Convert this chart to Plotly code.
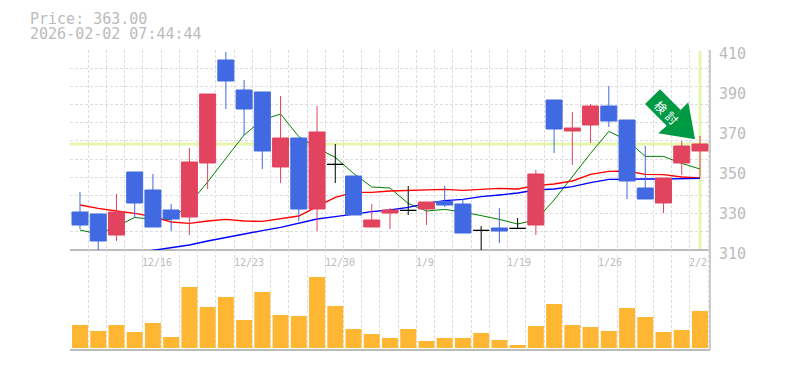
import plotly.graph_objects as go

index = list(range(35))
opens = [329,328,317.5,349,340,330,326.5,353.5,405,390,389,351.5,366,330.5,352.8,347,321.5,328.5,329.8,330.5,334.2,333,319.8,321,320.8,322.5,385,369.5,372.5,382,375,341,333.5,353.5,359.5]
closes = [322.5,314.5,329,333.5,321.5,325.5,354,388,394.5,380.5,359.5,366,330.5,369,352.8,327.5,325,330,329.8,334,332.5,318.5,319.8,319.5,320.8,348,370.5,371,382,374.5,344.5,335.5,346,362,363]
highs = [339,328,338,349,348,333,361,388,409,395,389,387,366,382,363,347,333,331,342,334,342,335.5,322,331,326,350,385,379,383,392,375,362,346,364.5,367]
lows = [320.5,309.8,314.5,326,321.5,319.5,317.5,340.5,380.5,367.5,350.5,343.5,324.5,319.5,343.5,327.5,321.5,320.5,327.5,322.5,331.5,318.5,309.8,313.5,320.5,317.5,358.5,352.5,363.5,371.5,335.5,335.5,328.5,347.5,346.5]
ma_short = [320,318,321.7,326.3,325.3,325.3,333,344,355.8,367.5,375,378,366.7,361,356.3,348.3,341.5,341,333.3,329.5,330.3,329,327.2,325.3,323,325,335,346.7,358.3,369.3,365,356.8,356.8,353.3,350.5]
ma_mid = [332.5,330.8,329.5,328.3,326.7,324,323.3,324.5,325.3,324.5,324.3,325.5,327,331.7,336.3,338.8,338.8,339.5,339.8,339.8,340.3,339.8,340.2,340.8,340.5,342.2,343,344.5,347.8,349.3,349.5,347.8,347.7,346.5,346]
ma_long = [None,None,None,308.5,309.8,311.3,312.5,314.5,316.3,317.8,319.7,321.3,323.3,325.5,326.7,328,329.2,330,331.3,333.3,334.7,335.3,336.7,337.5,338.5,340,340.5,341.7,343.7,345.3,345.5,345.5,345.5,345.5,345.8]
volumes = [23,17,23,16,25,11,61,41,51,28,56,33,32,71,42,19,14,10,19,7,10,10,15,8,3,22,44,23,21,17,40,31,16,18,37]
date_ticks = [4,9,14,19,24,29,34]
date_labels = ["12/16","12/23","12/30","1/9","1/19","1/26","2/2"]
price_ticks = [310,330,350,370,390,410]
current_price = 363
title_lines = ["Price: 363.00", "2026-02-02 07:44:44"]
arrow_label = "検討"

BLUE, RED, BLACK = "#4169e1", "#e2435f", "#000000"
GRAY = "#bbbbbb"; GRID = "#dddddd"; PALE = "#e5f6ae"
OFF = 8  # the page's own body margin
W, H = 785 - OFF, 370
L, R, T, B, MID = 70, 710, 50, 350, 250
XR = [-0.548, 34.55]
FONT = "DejaVu Sans Mono"
DASH = "3px,2px"

fx = lambda x: (x - L) / (R - L)
fy = lambda y: (B - y) / (B - T)

fig = go.Figure()

up = [i for i in index if closes[i] > opens[i]]
down = [i for i in index if closes[i] < opens[i]]
flat = [i for i in index if closes[i] == opens[i]]

for name, col, vals in [("MA5", "#008000", ma_short), ("MA25", "#ff0000", ma_mid), ("MA75", "#0000ff", ma_long)]:
    fig.add_trace(go.Scatter(x=index, y=vals, mode="lines", name=name, xaxis="x", yaxis="y",
                             line=dict(color=col, width=1 if col == "#008000" else 1.4), hoverinfo="skip"))

for sel, col in [(up, RED), (down, BLUE), (flat, BLACK)]:
    fig.add_trace(go.Candlestick(
        x=sel, open=[opens[i] for i in sel], high=[highs[i] for i in sel],
        low=[lows[i] for i in sel], close=[closes[i] for i in sel],
        xaxis="x3", yaxis="y3",
        increasing=dict(line=dict(color=col, width=1), fillcolor=col),
        decreasing=dict(line=dict(color=col, width=1), fillcolor=col),
        whiskerwidth=0, showlegend=False))

fig.add_trace(go.Bar(x=index, y=volumes, xaxis="x2", yaxis="y2", marker=dict(color="#ffb733", line=dict(width=0)),
                     width=0.877, showlegend=False))

minor_grid = dict(showgrid=True, gridcolor=GRID, griddash=DASH, gridwidth=1, tick0=-0.548, dtick=1.0, ticks="")
date_annotations = [
    dict(xref="x2", yref="paper", x=i, y=fy(262), text=t, xanchor="left", yanchor="middle", xshift=-12.5,
         showarrow=False, font=dict(size=10, color=GRAY, family=FONT))
    for i, t in zip(date_ticks, date_labels)
]
fig.update_layout(
    width=W, height=H, paper_bgcolor="white", plot_bgcolor="white", showlegend=False,
    boxgap=0.123, boxgroupgap=0, boxmode="overlay",
    margin=dict(l=L - OFF, r=W - (R - OFF), t=T - OFF, b=H - (B - OFF), pad=0),
    font=dict(family=FONT, color=GRAY, size=15),
    xaxis=dict(domain=[0, 1], anchor="y", range=XR, tickmode="array", tickvals=[], showgrid=False, zeroline=False,
               showticklabels=False, ticks="", minor=minor_grid),
    yaxis=dict(domain=[fy(MID), 1], anchor="x", range=[310, 410], tick0=310, dtick=100 / 11,
               showgrid=True, gridcolor=GRID, griddash=DASH, gridwidth=1, showticklabels=False, zeroline=False),
    xaxis3=dict(overlaying="x", anchor="y3", range=XR, rangeslider=dict(visible=False), showgrid=False,
                showticklabels=False, zeroline=False, ticks=""),
    yaxis3=dict(overlaying="y", anchor="x3", side="right", range=[310, 410], tickmode="array", tickvals=price_ticks,
                ticktext=[str(v) for v in price_ticks], ticklabelshift=4, ticks="", showgrid=False, zeroline=False,
                tickfont=dict(size=15, color=GRAY, family=FONT), ticklabelstandoff=8),
    xaxis2=dict(domain=[0, 1], anchor="y2", range=XR, tickmode="array", tickvals=[], showticklabels=False,
                showgrid=False, zeroline=False, ticks="", minor=minor_grid),
    yaxis2=dict(domain=[0, fy(MID)], anchor="x2", range=[-2, 98], showgrid=False, showticklabels=False, zeroline=False),
    shapes=[
        dict(type="line", xref="paper", yref="y", x0=0, x1=1, y0=current_price, y1=current_price,
             line=dict(color=PALE, width=3), layer="below"),
        dict(type="line", xref="x", yref="paper", x0=34, x1=34, y0=fy(249), y1=fy(51),
             line=dict(color=PALE, width=3), layer="below"),
        dict(type="line", xref="paper", yref="paper", x0=0, x1=1, y0=fy(MID), y1=fy(MID),
             line=dict(color=GRAY, width=2), layer="below"),
        dict(type="line", xref="paper", yref="paper", x0=0, x1=1, y0=0, y1=0, line=dict(color=GRAY, width=2), layer="above"),
        dict(type="line", xref="paper", yref="paper", x0=1, x1=1, y0=0, y1=1, line=dict(color="#cccccc", width=2), layer="above"),
        dict(type="path", xref="paper", yref="paper", layer="above", line=dict(width=0), fillcolor="#009944",
             path="M {} {} L {} {} L {} {} L {} {} L {} {} L {} {} L {} {} Z".format(*[
                 v for (x, y) in [(660, 89.3), (680.7, 110), (688.3, 102.3), (695, 139.3), (658.3, 133.3), (666.7, 125.7), (645, 104)]
                 for v in (fx(x), fy(y))])),
    ],
    annotations=[
        dict(xref="paper", yref="paper", x=fx(27.5), y=fy(19), text=title_lines[0], xanchor="left", yanchor="middle",
             showarrow=False, font=dict(size=15, color=GRAY, family=FONT)),
        dict(xref="paper", yref="paper", x=fx(27.5), y=fy(34), text=title_lines[1], xanchor="left", yanchor="middle",
             showarrow=False, font=dict(size=15, color=GRAY, family=FONT)),
        dict(xref="paper", yref="paper", x=fx(661.5), y=fy(106), text=arrow_label[0], textangle=45, xanchor="center", yanchor="middle",
             showarrow=False, font=dict(size=12, color="#ffffff", family="Noto Sans CJK JP")),
        dict(xref="paper", yref="paper", x=fx(672.5), y=fy(117), text=arrow_label[1], textangle=45, xanchor="center", yanchor="middle",
             showarrow=False, font=dict(size=12, color="#ffffff", family="Noto Sans CJK JP")),
    ] + date_annotations,
)
fig.write_html("out.html")
